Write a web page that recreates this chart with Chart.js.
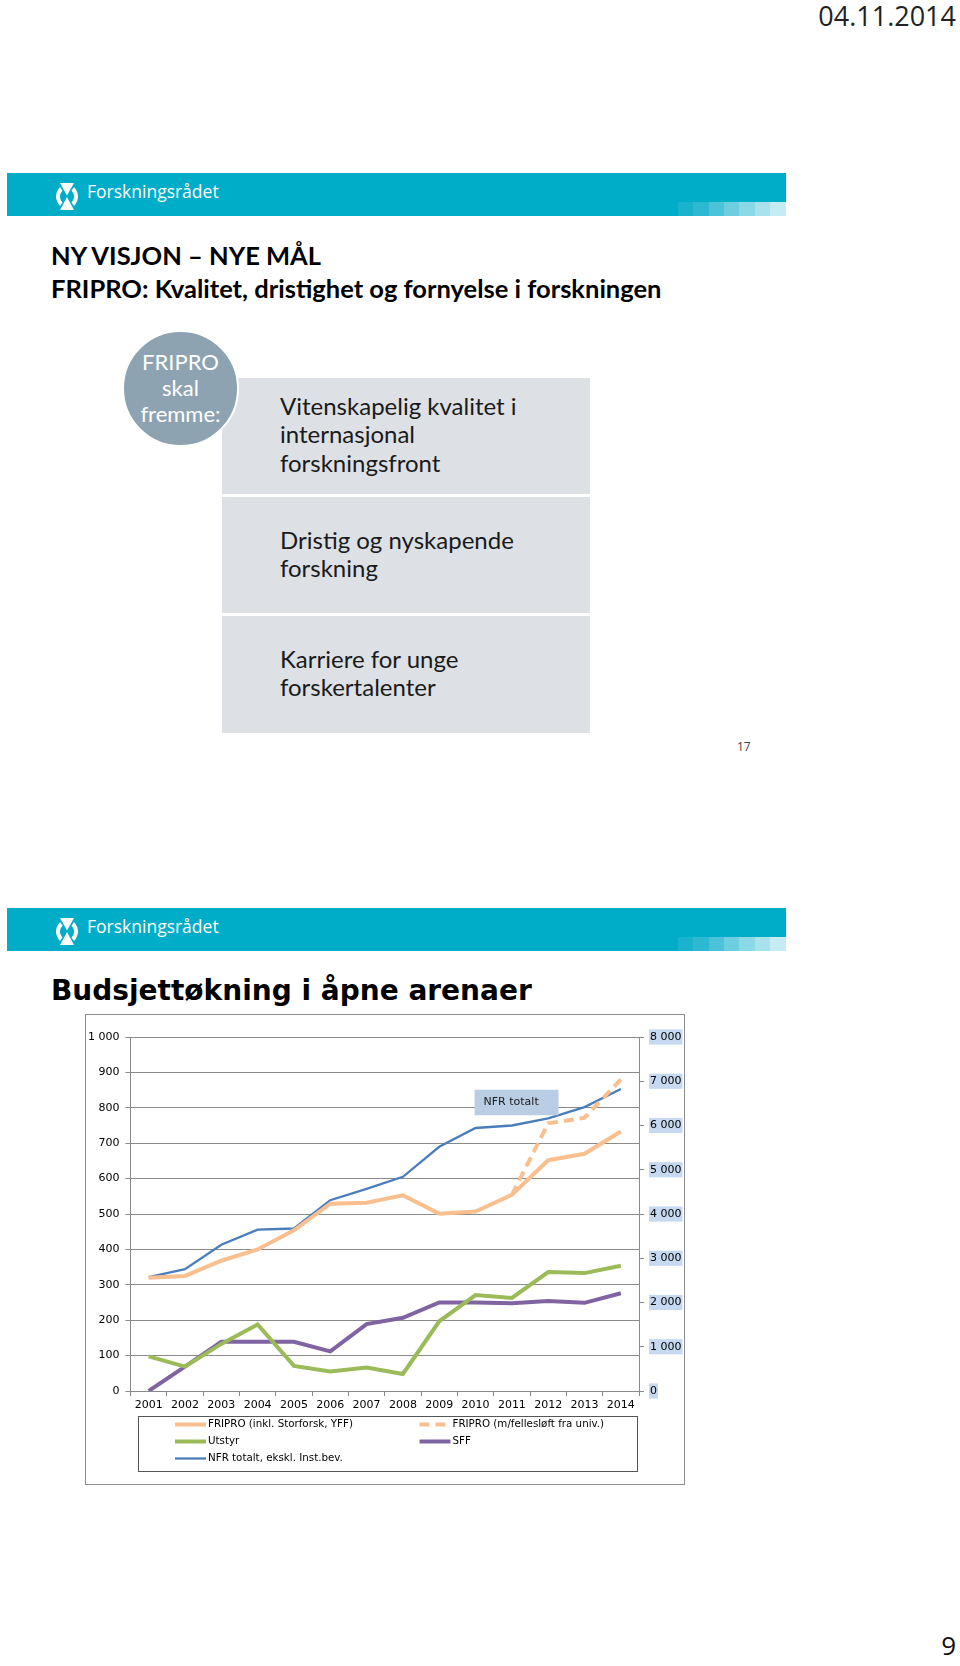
<!DOCTYPE html>
<html>
<head>
<meta charset="utf-8">
<script src="https://cdn.jsdelivr.net/npm/chart.js@4.4.0/dist/chart.umd.min.js"></script>
<style>
body { margin:0; width:960px; height:1666px; position:relative; background:#fff; overflow:hidden; font-family:'Open Sans', sans-serif; }
.abs { position:absolute; white-space:nowrap; }
.date { right:4px; top:-1px; font-size:27px; line-height:34px; color:#222; }
.bar { left:7px; width:779px; height:43px; background:#00adc9; }
.sq { position:absolute; top:29px; width:16px; height:14px; }
.logo { position:absolute; left:45px; top:10px; }
.brand { position:absolute; left:80px; top:6px; font-size:17.5px; color:#fff; }
.t1 { left:51px; font-family:Lato, sans-serif; font-weight:bold; font-size:25.5px; line-height:33px; color:#000; }
.circle { left:122px; top:330px; width:117px; height:117px; border-radius:50%; background:#8ea3b2; border:2px solid #fff; box-sizing:border-box; z-index:2; }
.ctext { left:122px; top:349px; width:117px; text-align:center; font-family:Lato, sans-serif; font-size:22px; line-height:26px; color:#fff; z-index:3; }
.box { left:222px; width:368px; background:#dde1e5; }
.btext { left:280px; font-family:Lato, sans-serif; font-size:24px; line-height:28.3px; color:#1a1a1a; }
.t2 { left:51px; top:973px; font-family:'DejaVu Sans', sans-serif; font-weight:bold; font-size:28px; line-height:36px; color:#000; }
.frame { left:85px; top:1014px; width:600px; height:471px; border:1px solid #8c8c8c; box-sizing:border-box; }
</style>
</head>
<body>
<div class="abs date">04.11.2014</div>

<div class="abs bar" id="bar1" style="top:173px"></div>
<div class="abs bar" id="bar2" style="top:908px"></div>

<div class="abs t1" style="top:239px">NY VISJON – NYE MÅL<br>FRIPRO: Kvalitet, dristighet og fornyelse i forskningen</div>

<div class="abs box" style="top:378px;height:116px"></div>
<div class="abs box" style="top:497px;height:116px"></div>
<div class="abs box" style="top:616px;height:117px"></div>
<div class="abs circle"></div>
<div class="abs ctext">FRIPRO<br>skal<br>fremme:</div>
<div class="abs btext" style="top:392px">Vitenskapelig kvalitet i<br>internasjonal<br>forskningsfront</div>
<div class="abs btext" style="top:526px">Dristig og nyskapende<br>forskning</div>
<div class="abs btext" style="top:645px">Karriere for unge<br>forskertalenter</div>
<div class="abs" style="left:737px;top:738px;font-size:12px;color:#444">17</div>

<div class="abs t2">Budsjettøkning i åpne arenaer</div>

<div class="abs frame"></div>
<div class="abs" style="left:85px;top:1014px;width:600px;height:471px">
  <canvas id="chart" width="600" height="471"></canvas>
</div>

<div class="abs" style="right:4px;top:1628px;font-size:26px;line-height:34px;color:#111">9</div>

<script>
// banner decoration (same on both slides)
var sqColors = ['#19b3ce', '#2db9d2', '#4cc3d9', '#6dcee0', '#8bd8e7', '#a8e2ed', '#c6ecf3'];
['bar1', 'bar2'].forEach(function (id) {
    var bar = document.getElementById(id);
    var html = '<svg class="logo" width="30" height="27" viewBox="0 0 30 27">' +
        '<path d="M8 0 L22 0 L15 12.5 Z M15 14 L22 27 L8 27 Z" fill="#fff"/>' +
        '<path d="M8 4 Q0 13.5 8 23 L10.5 19.5 Q5.5 13.5 10.5 7.5 Z" fill="#fff"/>' +
        '<path d="M22 4 Q30 13.5 22 23 L19.5 19.5 Q24.5 13.5 19.5 7.5 Z" fill="#fff"/>' +
        '</svg><div class="brand">Forskningsrådet</div>';
    sqColors.forEach(function (c, i) {
        html += '<div class="sq" style="left:' + (671 + i * 15.3) + 'px;background:' + c + '"></div>';
    });
    bar.innerHTML = html;
});

// data
var years = ['2001', '2002', '2003', '2004', '2005', '2006', '2007', '2008', '2009', '2010', '2011', '2012', '2013', '2014'];
var fripro = [320, 325, 368, 400, 454, 529, 532, 553, 501, 507, 554, 652, 670, 733];
var friproFelles = [null, null, null, null, null, null, null, null, null, null, 554, 756, 772, 880];
var utstyr = [98, 69, 133, 188, 71, 55, 66, 48, 197, 271, 263, 336, 333, 354];
var sff = [0, 69, 139, 139, 139, 112, 189, 207, 250, 250, 248, 254, 249, 276];
var nfrTotalt = [2576, 2752, 3304, 3648, 3672, 4312, 4568, 4840, 5520, 5944, 6000, 6160, 6416, 6824];
var leftTicks = [0, 100, 200, 300, 400, 500, 600, 700, 800, 900, 1000];
var rightTicks = [0, 1000, 2000, 3000, 4000, 5000, 6000, 7000, 8000];

function fmt(v) {
    return String(v).replace(/\B(?=(\d{3})+(?!\d))/g, ' ');
}

var axisFont = { family: 'DejaVu Sans', size: 11 };
var gridCol = '#8a8a8a';

// legend box + "NFR totalt" callout
var extras = {
    id: 'extras',
    afterDraw: function (chart) {
        var ctx = chart.ctx, a = chart.chartArea;
        var xs = chart.scales.x, ys = chart.scales.y;

        // callout
        var bx = xs.getPixelForValue(9) - 1, by = ys.getPixelForValue(851);
        var bw = 84, bh = ys.getPixelForValue(779) - by;
        ctx.save();
        ctx.fillStyle = '#b9cde5';
        ctx.fillRect(bx, by, bw, bh);
        ctx.fillStyle = '#1a1a1a';
        ctx.font = '11px "DejaVu Sans"';
        ctx.textBaseline = 'middle';
        ctx.fillText('NFR totalt', bx + 9, by + bh / 2);

        // legend
        var lx = a.left + 7.5, ly = a.bottom + 24.5, lw = a.right - 2 - lx, lh = 54.5;
        ctx.strokeStyle = '#555';
        ctx.lineWidth = 1;
        ctx.strokeRect(Math.round(lx) + 0.5, Math.round(ly) + 0.5, Math.round(lw), Math.round(lh));
        ctx.font = '10.3px "DejaVu Sans"';
        ctx.textBaseline = 'middle';
        chart.data.datasets.forEach(function (ds, i) {
            var col = i % 2, row = Math.floor(i / 2);
            var x0 = lx + (col === 0 ? 37 : 281.5);
            var y0 = ly + 9 + row * 17;
            ctx.beginPath();
            ctx.strokeStyle = ds.borderColor;
            ctx.lineWidth = ds.borderWidth;
            ctx.setLineDash(ds.borderDash || []);
            ctx.moveTo(x0, y0);
            ctx.lineTo(x0 + 31, y0);
            ctx.stroke();
            ctx.setLineDash([]);
            ctx.fillStyle = '#000';
            ctx.fillText(ds.label, x0 + 33, y0);
        });
        ctx.restore();
    }
};

var graph = document.getElementById('chart').getContext('2d');
var myChart = new Chart(graph, {
    type: 'line',
    data: {
        labels: years,
        datasets: [{
            label: 'FRIPRO (inkl. Storforsk, YFF)',
            data: fripro,
            borderColor: '#f9bf8f',
            borderWidth: 4,
            yAxisID: 'y'
        }, {
            label: 'FRIPRO (m/fellesløft fra univ.)',
            data: friproFelles,
            borderColor: '#f9bf8f',
            borderWidth: 4,
            borderDash: [10, 6],
            yAxisID: 'y'
        }, {
            label: 'Utstyr',
            data: utstyr,
            borderColor: '#9bbb59',
            borderWidth: 4,
            yAxisID: 'y'
        }, {
            label: 'SFF',
            data: sff,
            borderColor: '#8064a2',
            borderWidth: 4,
            yAxisID: 'y'
        }, {
            label: 'NFR totalt, ekskl. Inst.bev.',
            data: nfrTotalt,
            borderColor: '#4a7ebb',
            borderWidth: 2.3,
            yAxisID: 'y1'
        }]
    },
    options: {
        responsive: false,
        animation: false,
        layout: { padding: { top: 23, bottom: 69, left: 0, right: 0 } },
        elements: { point: { radius: 0 }, line: { tension: 0, borderCapStyle: 'butt' } },
        plugins: { legend: { display: false }, tooltip: { enabled: false } },
        scales: {
            x: {
                offset: true,
                grid: { drawOnChartArea: false, offset: true, tickLength: 5, color: gridCol },
                border: { color: gridCol },
                ticks: { font: axisFont, color: '#000', padding: 3, maxRotation: 0, autoSkip: false },
                afterFit: function (s) { s.height = 25; }
            },
            y: {
                position: 'left',
                min: 0, max: 1000,
                afterBuildTicks: function (s) { s.ticks = leftTicks.map(function (v) { return { value: v }; }); },
                ticks: { font: axisFont, color: '#000', padding: 6, callback: fmt },
                grid: { color: gridCol, tickLength: 5 },
                border: { color: gridCol },
                afterFit: function (s) { s.width = 45.5; }
            },
            y1: {
                position: 'right',
                min: 0, max: 8000,
                afterBuildTicks: function (s) { s.ticks = rightTicks.map(function (v) { return { value: v }; }); },
                ticks: {
                    font: axisFont, color: '#000', padding: 6, callback: fmt,
                    showLabelBackdrop: true, backdropColor: '#c6d9f0', backdropPadding: 1
                },
                grid: { drawOnChartArea: false, tickLength: 5, color: gridCol },
                border: { color: gridCol },
                afterFit: function (s) { s.width = 46; }
            }
        }
    },
    plugins: [extras]
});
</script>
</body>
</html>
